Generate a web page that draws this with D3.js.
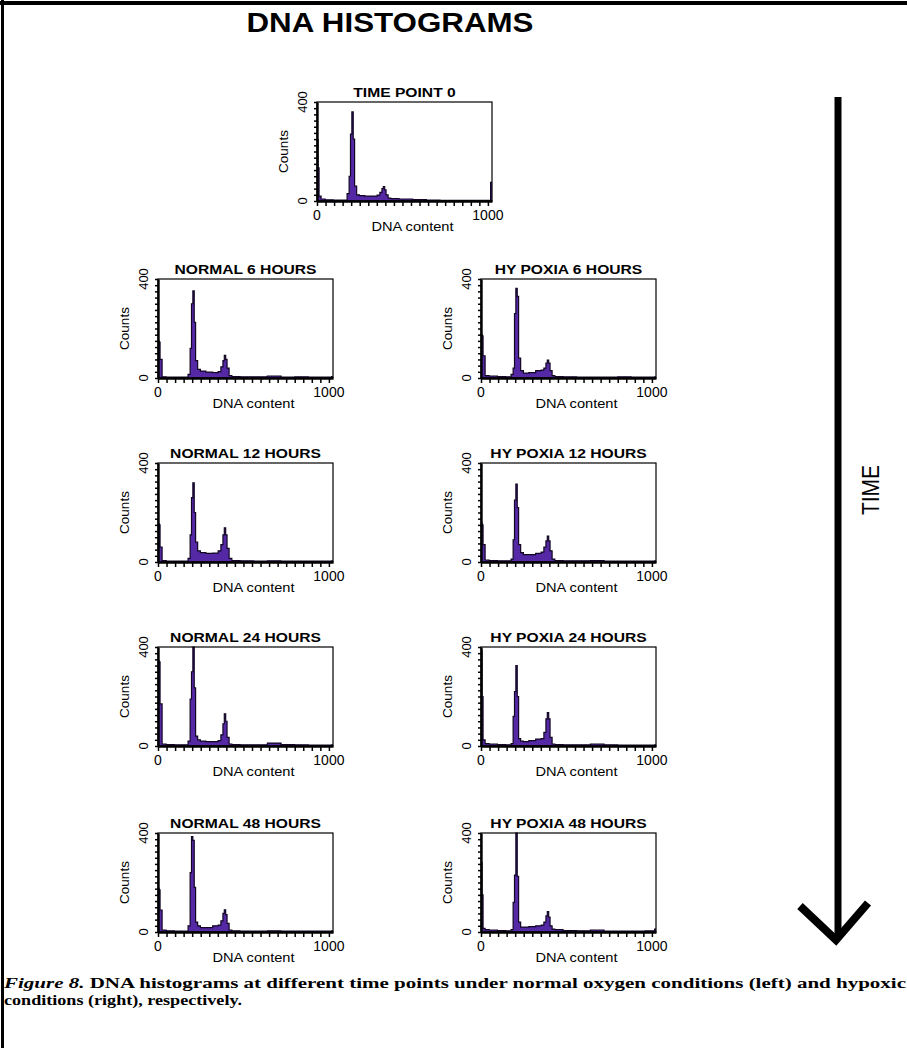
<!DOCTYPE html>
<html>
<head>
<meta charset="utf-8">
<script src="https://cdn.jsdelivr.net/npm/d3@7"></script>
<style>
body { margin: 0; background: #fff; }
</style>
</head>
<body>
<div id="chart"></div>
<script>
// DNA HISTOGRAMS

// Data: shared bin edges (DNA content channels) and counts per bin for each panel

var binEdges = [0, 6, 12, 24, 48, 96, 144, 176, 188, 196, 204, 212, 220, 232, 248, 280, 320,
                352, 368, 380, 388, 396, 404, 416, 432, 480, 560, 640, 720, 800, 880, 960, 1016, 1024];

var timePoint0 = [248, 134, 20, 8, 5, 4, 4, 30, 100, 270, 360, 250, 60, 25, 22, 20, 20, 24, 35, 50, 58, 45, 25, 12, 10, 8, 6, 4, 3, 3, 3, 3, 75];
var normal6    = [150, 145, 75, 5, 4, 4, 4, 15, 120, 300, 352, 225, 70, 35, 28, 24, 22, 26, 45, 70, 92, 75, 40, 10, 6, 5, 5, 8, 4, 5, 4, 4, 6];
var hypoxia6   = [175, 170, 90, 10, 8, 6, 5, 15, 40, 260, 362, 330, 80, 30, 20, 22, 30, 32, 40, 60, 72, 60, 30, 10, 6, 5, 4, 4, 4, 5, 4, 4, 5];
var normal12   = [155, 150, 60, 6, 4, 4, 4, 15, 110, 260, 320, 200, 80, 45, 38, 35, 36, 45, 70, 110, 138, 110, 55, 15, 6, 5, 4, 5, 4, 4, 4, 4, 5];
var hypoxia12  = [160, 150, 70, 8, 6, 5, 5, 12, 90, 250, 315, 220, 70, 38, 30, 30, 35, 40, 60, 85, 105, 85, 45, 12, 6, 5, 5, 6, 4, 4, 4, 4, 5];
var normal24   = [345, 340, 170, 8, 6, 5, 5, 20, 190, 300, 400, 235, 40, 25, 20, 18, 18, 22, 45, 90, 130, 100, 35, 8, 6, 5, 5, 12, 6, 5, 4, 4, 5];
var hypoxia24  = [385, 200, 25, 10, 8, 6, 5, 10, 120, 220, 325, 200, 30, 20, 18, 22, 28, 30, 55, 110, 135, 110, 35, 8, 6, 5, 5, 8, 5, 4, 4, 4, 5];
var normal48   = [176, 170, 88, 8, 5, 4, 4, 25, 240, 385, 370, 180, 40, 25, 18, 18, 25, 28, 45, 75, 90, 70, 35, 8, 5, 4, 4, 5, 4, 4, 4, 4, 5];
var hypoxia48  = [280, 150, 15, 10, 8, 6, 5, 10, 120, 230, 400, 225, 40, 20, 20, 22, 25, 28, 40, 65, 82, 60, 25, 12, 10, 6, 5, 8, 4, 4, 4, 5, 12];

var panelTitles = ["TIME POINT 0", "NORMAL 6 HOURS", "HY POXIA 6 HOURS", "NORMAL 12 HOURS", "HY POXIA 12 HOURS",
                   "NORMAL 24 HOURS", "HY POXIA 24 HOURS", "NORMAL 48 HOURS", "HY POXIA 48 HOURS"];
var panelCounts = [timePoint0, normal6, hypoxia6, normal12, hypoxia12, normal24, hypoxia24, normal48, hypoxia48];

var xTickLabels = [0, 1000];
var yTickLabels = [0, 400];

var captionLead = "Figure 8.";
var captionLine1 = " DNA histograms at different time points under normal oxygen conditions (left) and hypoxic";
var captionLine2 = "conditions (right), respectively.";

// Layout

var width = 907;
var height = 1048;
var panelW = 175;
var panelH = 99;
var panelPos = [[317, 102], [158, 279], [481, 279], [158, 463], [481, 463],
                [158, 647], [481, 647], [158, 833], [481, 833]];
var fillColor = "#5529a6";
var sans = "'Liberation Sans', Arial, 'DejaVu Sans', sans-serif";

var svg = d3.select("#chart")
            .append("svg")
            .attr("width", width)
            .attr("height", height)
            .style("font-family", sans);

svg.append("rect").attr("width", width).attr("height", height).attr("fill", "#fff");

// Frame lines (top and left)

svg.append("line").attr("x1", 0).attr("x2", width).attr("y1", 3).attr("y2", 3)
   .attr("stroke", "#000").attr("stroke-width", 4);
svg.append("line").attr("x1", 2.5).attr("x2", 2.5).attr("y1", 0).attr("y2", height)
   .attr("stroke", "#000").attr("stroke-width", 3);

// Main title

svg.append("text")
   .attr("x", 390).attr("y", 32)
   .attr("text-anchor", "middle")
   .attr("font-family", "'Liberation Sans Narrow', " + sans)
   .attr("font-weight", "bold")
   .attr("font-size", 27)
   .attr("textLength", 287)
   .attr("lengthAdjust", "spacingAndGlyphs")
   .text("DNA HISTOGRAMS");

// Scales (shared by every panel)

var x = d3.scaleLinear().domain([0, 1024]).range([0, panelW]);
var y = d3.scaleLinear().domain([0, 400]).range([panelH, 0]).clamp(true);

var area = d3.area()
             .curve(d3.curveStepAfter)
             .x(function(d) { return x(d.ch); })
             .y0(panelH)
             .y1(function(d) { return y(d.c); });

var line = d3.line()
             .curve(d3.curveStepAfter)
             .x(function(d) { return x(d.ch); })
             .y(function(d) { return y(d.c); });

// Draw the panels

panelCounts.forEach(function(counts, i) {

    var g = svg.append("g")
               .attr("transform", "translate(" + panelPos[i][0] + "," + panelPos[i][1] + ")");

    var pts = binEdges.map(function(e, j) {
        return {ch: e, c: counts[Math.min(j, counts.length - 1)]};
    });

    g.append("path").datum(pts).attr("d", area).attr("fill", fillColor);
    g.append("path").datum(pts).attr("d", line)
     .attr("fill", "none").attr("stroke", "#120624").attr("stroke-width", 1.2);

    // box
    g.append("rect").attr("width", panelW).attr("height", panelH)
     .attr("fill", "none").attr("stroke", "#000").attr("stroke-width", 1.2);

    // axes with minor ticks
    var yAxis = g.append("g")
                 .call(d3.axisLeft(y).tickValues(d3.range(0, 401, 25)).tickSize(3).tickSizeOuter(0).tickFormat(""));
    var xAxis = g.append("g")
                 .attr("transform", "translate(0," + panelH + ")")
                 .call(d3.axisBottom(x).tickValues(d3.range(0, 1001, 50)).tickSize(5).tickSizeOuter(0).tickFormat(""));
    [yAxis, xAxis].forEach(function(a) {
        a.select(".domain").attr("stroke-width", 2.4);
        a.selectAll(".tick line").attr("stroke-width", 1.5);
    });

    // tick labels
    xTickLabels.forEach(function(v) {
        g.append("text").attr("x", x(v)).attr("y", panelH + 19)
         .attr("text-anchor", "middle").attr("font-size", 14).text(v);
    });
    yTickLabels.forEach(function(v) {
        g.append("text")
         .attr("transform", "translate(-10," + y(v) + ") rotate(-90)")
         .attr("text-anchor", "middle").attr("font-size", 13).text(v);
    });

    // axis titles
    g.append("text")
     .attr("transform", "translate(-29," + (panelH / 2) + ") rotate(-90)")
     .attr("text-anchor", "middle").attr("font-size", 13.5).text("Counts");
    g.append("text")
     .attr("x", panelW / 2 + 8).attr("y", panelH + 30)
     .attr("text-anchor", "middle").attr("font-size", 13)
     .attr("textLength", 82).attr("lengthAdjust", "spacingAndGlyphs")
     .text("DNA content");

    // panel title, stretched like the original
    var t = g.append("text")
             .attr("x", panelW / 2).attr("y", -5)
             .attr("text-anchor", "middle")
             .attr("font-weight", "bold")
             .attr("font-size", 12.5)
             .text(panelTitles[i]);
    t.attr("textLength", t.node().getComputedTextLength() * 1.25)
     .attr("lengthAdjust", "spacingAndGlyphs");
});

// Time arrow

svg.append("line").attr("x1", 838).attr("x2", 838).attr("y1", 97).attr("y2", 936)
   .attr("stroke", "#000").attr("stroke-width", 7);
svg.append("polyline")
   .attr("points", "800,906 836,940 868,903")
   .attr("fill", "none").attr("stroke", "#000").attr("stroke-width", 8);

svg.append("text")
   .attr("transform", "translate(879,490) rotate(-90)")
   .attr("text-anchor", "middle")
   .attr("font-size", 24)
   .attr("textLength", 50).attr("lengthAdjust", "spacingAndGlyphs")
   .text("TIME");

// Caption

var serif = "'Liberation Serif', 'DejaVu Serif', serif";
var cap1 = svg.append("text")
              .attr("x", 4).attr("y", 988)
              .attr("font-family", serif).attr("font-size", 15.5).attr("font-weight", "bold")
              .attr("textLength", 902).attr("lengthAdjust", "spacingAndGlyphs");
cap1.append("tspan").attr("font-style", "italic").text(captionLead);
cap1.append("tspan").text(captionLine1);

svg.append("text")
   .attr("x", 4).attr("y", 1005)
   .attr("font-family", serif).attr("font-size", 15.5).attr("font-weight", "bold")
   .attr("textLength", 238).attr("lengthAdjust", "spacingAndGlyphs")
   .text(captionLine2);
</script>
</body>
</html>
